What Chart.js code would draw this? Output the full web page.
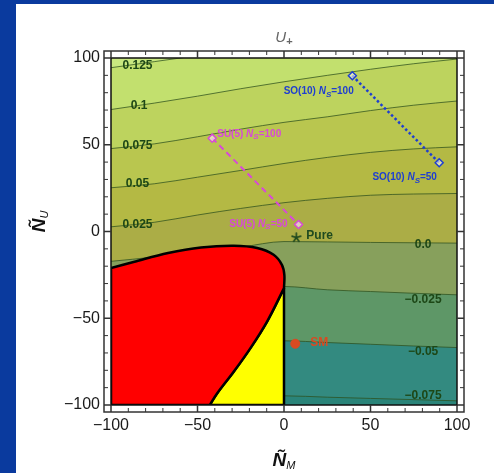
<!DOCTYPE html>
<html><head><meta charset="utf-8">
<script src="https://cdn.jsdelivr.net/npm/chart.js@4/dist/chart.umd.min.js"></script>
<style>
html,body{margin:0;padding:0;background:#0a3a9e;width:494px;height:473px;overflow:hidden}
#panel{position:absolute;left:16px;top:4px;width:478px;height:469px;background:#fff}
#c{position:absolute;left:0;top:0}
</style></head><body>
<div id="panel"></div>
<canvas id="c" width="494" height="473"></canvas>
<script>
// ---------------- data ----------------
const contourX = [-100, -75, -50, -25, 0, 25, 50, 75, 100];
const levelLabels = ['0.125', '0.1', '0.075', '0.05', '0.025', '0.0', '\u22120.025', '\u22120.05', '\u22120.075'];
const lvlP125 = [94.4, 97.9, 101.4, 104.9, 108.4, 111.9, 115.4, 118.9, 122.4];
const lvlP100 = [70.3, 74.0, 78.0, 82.3, 86.3, 90.0, 93.5, 96.7, 99.4];
const lvlP075 = [47.8, 50.5, 54.6, 59.0, 62.9, 66.1, 69.7, 72.8, 75.2];
const lvlP050 = [25.2, 27.5, 31.3, 35.2, 39.2, 42.7, 45.6, 47.6, 48.8];
const lvlP025 = [2.7, 5.3, 9.5, 13.3, 16.6, 19.1, 20.9, 21.6, 21.9];
const lvlZero = [-17.2, -14.7, -11.5, -9.0, -5.8, -6.0, -6.3, -6.5, -6.7];
const lvlM025 = [-31.7, -31.7, -31.7, -31.7, -31.7, -33.6, -34.6, -35.6, -36.5];
const lvlM050 = [-63.0, -63.0, -63.0, -63.0, -63.0, -64.0, -65.0, -66.0, -66.9];
const lvlM075 = [-94.7, -94.7, -94.7, -94.7, -94.7, -95.5, -96.2, -96.9, -97.6];

// excluded regions (boundary points, corners repeated)
const redM = [-100, -100, -100, -100, -87, -67, -48, -29, -15.5, -6, -1.2, 0.2, 0, 0, -9.8, -19.4, -29, -38.6, -42.9, -42.9, -100, -100];
const redU = [-100, -100, -21.1, -21.1, -17.6, -12.4, -9.2, -8.2, -9.5, -13.4, -19.2, -25, -32.6, -32.6, -51.9, -67.2, -80.7, -93.2, -100, -100, -100, -100];
const yelM = [0, 0, 0, 0, -42.9, -42.9, -38.6, -29, -19.4, -9.8, 0, 0];
const yelU = [-32.6, -32.6, -100, -100, -100, -100, -93.2, -80.7, -67.2, -51.9, -32.6, -32.6];

// model points
const su5NS = [100, 50], su5M = [-41.5, 8.4], su5U = [53.8, 4.0];
const so10NS = [100, 50], so10M = [39.5, 89.7], so10U = [89.8, 39.6];
const pureM = [7.1], pureU = [-3.5];
const smM = [6.5], smU = [-64.7];

const tickValues = [-100, -50, 0, 50, 100];

// ---------------- styles ----------------
const F = "'Liberation Sans', Arial, sans-serif";
const bandTop = '#c8e880';
const bandColors = ['#c2e06e', '#bdd35e', '#b9c64f', '#b4b944', '#abad46', '#87a05c', '#5e9767', '#338a80', '#2a8479'];
const levels = [lvlP125, lvlP100, lvlP075, lvlP050, lvlP025, lvlZero, lvlM025, lvlM050, lvlM075];
const pts = (xs, ys) => xs.map((x, i) => ({x, y: ys[i]}));

// 5-arm asterisk marker
const starImg = document.createElement('canvas');
starImg.width = 11; starImg.height = 11;
(() => {
  const g = starImg.getContext('2d');
  g.strokeStyle = '#1f4a1f'; g.lineWidth = 1.7; g.lineCap = 'round';
  g.beginPath();
  for (let k = 0; k < 5; k++) {
    const ang = -Math.PI / 2 + k * 2 * Math.PI / 5;
    g.moveTo(5.5, 5.5); g.lineTo(5.5 + 4.5 * Math.cos(ang), 5.5 + 4.5 * Math.sin(ang));
  }
  g.stroke();
})();

const datasets = [];
datasets.push({data: pts([-100, 100], [100, 100]), fill: 'start', backgroundColor: bandTop,
  borderWidth: 0, pointRadius: 0, order: 100});
levels.forEach((arr, i) => {
  datasets.push({data: pts(contourX, arr), fill: 'start', backgroundColor: bandColors[i],
    borderColor: 'rgba(45,80,30,0.75)', borderWidth: 1, pointRadius: 0,
    cubicInterpolationMode: 'monotone', order: 99 - i});
});
datasets.push({data: pts(yelM, yelU), fill: 'shape', backgroundColor: '#ffff00', borderColor: '#000',
  borderWidth: 2.5, pointRadius: 0, tension: 0.35, borderJoinStyle: 'round', order: 80});
datasets.push({data: pts(redM, redU), fill: 'shape', backgroundColor: '#ff0000', borderColor: '#000',
  borderWidth: 2.5, pointRadius: 0, tension: 0.35, borderJoinStyle: 'round', order: 79});
datasets.push({data: pts(su5M, su5U), borderColor: '#d848d8', borderWidth: 2, borderDash: [6, 4],
  pointStyle: 'rectRot', pointRadius: 4, pointBorderWidth: 1.5, pointBorderColor: '#d848d8',
  pointBackgroundColor: 'rgba(255,255,255,0.55)', fill: false, order: 70});
datasets.push({data: pts(so10M, so10U), borderColor: '#1f3fd0', borderWidth: 2.5, borderDash: [2.5, 2.5],
  pointStyle: 'rectRot', pointRadius: 4, pointBorderWidth: 1.5, pointBorderColor: '#1f3fd0',
  pointBackgroundColor: 'rgba(255,255,255,0.55)', fill: false, order: 69});
datasets.push({data: pts(pureM, pureU), showLine: false, pointStyle: starImg, pointRadius: 5,
  fill: false, order: 68});
datasets.push({data: pts(smM, smU), showLine: false, pointStyle: 'circle', pointRadius: 4.5,
  pointBackgroundColor: '#d84a22', pointBorderColor: '#d84a22', fill: false, order: 67});

// text annotations anchored in data units
const contourLabelPos = [[-84.7, 95.5], [-83.7, 72.3], [-84.7, 49.4], [-84.7, 27.7], [-84.7, 3.7],
  [80.4, -7.6], [80.4, -39.4], [80.4, -69.5], [80.4, -94.5]];

function rich(ctx, parts, x, y, align) {
  let w = 0; const ws = [];
  for (const p of parts) { ctx.font = p[1]; const m = ctx.measureText(p[0]).width; ws.push(m); w += m; }
  let cx = align === 'right' ? x - w : align === 'center' ? x - w / 2 : x;
  ctx.textAlign = 'left'; ctx.textBaseline = 'middle';
  parts.forEach((p, i) => { ctx.font = p[1]; ctx.fillText(p[0], cx, y + (p[2] || 0)); cx += ws[i]; });
}
function nsParts(group, ns, size) {
  return [[group + ' ', `bold ${size}px ${F}`], ['N', `bold italic ${size}px ${F}`],
    ['S', `bold italic ${size - 2}px ${F}`, 3], ['=' + ns, `bold ${size}px ${F}`]];
}

const decor = {
  id: 'decor',
  afterDatasetsDraw(chart) {
    const {ctx, chartArea: a, scales: {x, y}} = chart;
    const X = v => x.getPixelForValue(v), Y = v => y.getPixelForValue(v);
    ctx.save();
    ctx.fillStyle = '#1d4716';
    ctx.font = `bold 12px ${F}`; ctx.textAlign = 'center'; ctx.textBaseline = 'middle';
    levelLabels.forEach((t, i) => ctx.fillText(t, X(contourLabelPos[i][0]), Y(contourLabelPos[i][1])));
    ctx.fillStyle = '#d848d8';
    rich(ctx, nsParts('SU(5)', su5NS[0], 10), X(-38.6), Y(56.1), 'left');
    rich(ctx, nsParts('SU(5)', su5NS[1], 10), X(2.1), Y(4.3), 'right');
    ctx.fillStyle = '#1f3fd0';
    rich(ctx, nsParts('SO(10)', so10NS[0], 10), X(-0.2), Y(80.7), 'left');
    rich(ctx, nsParts('SO(10)', so10NS[1], 10), X(51.1), Y(31.1), 'left');
    ctx.fillStyle = '#1f4a1f';
    rich(ctx, [['Pure', `bold 12px ${F}`]], X(12.9), Y(-2.3), 'left');
    ctx.fillStyle = '#d84a22';
    rich(ctx, [['SM', `bold 12px ${F}`]], X(15.2), Y(-64.1), 'left');
    ctx.strokeStyle = '#111'; ctx.lineWidth = 1.5;
    ctx.strokeRect(a.left, a.top, a.right - a.left, a.bottom - a.top);
    const p = 7, L = a.left - p, R = a.right + p, T = a.top - p, B = a.bottom + p;
    ctx.strokeStyle = '#333'; ctx.lineWidth = 1.5;
    ctx.strokeRect(L, T, R - L, B - T);
    for (let v = -100; v <= 100; v += 10) {
      const major = v % 50 === 0, len = major ? 7 : 4;
      ctx.lineWidth = major ? 1.5 : 1;
      const px = X(v), py = Y(v);
      ctx.beginPath();
      ctx.moveTo(px, B); ctx.lineTo(px, B - len);
      ctx.moveTo(px, T); ctx.lineTo(px, T + len);
      ctx.moveTo(L, py); ctx.lineTo(L + len, py);
      ctx.moveTo(R, py); ctx.lineTo(R - len, py);
      ctx.stroke();
    }
    const cx = (a.left + a.right) / 2;
    ctx.fillStyle = '#666';
    rich(ctx, [['U', `italic 15px ${F}`], ['+', `bold 11px ${F}`, 4]], cx, 38, 'center');
    ctx.fillStyle = '#111';
    rich(ctx, [['\u00d1', `bold italic 19px ${F}`], ['M', `italic 11px ${F}`, 5]], cx, 461, 'center');
    ctx.translate(40, (a.top + a.bottom) / 2 - 10);
    ctx.rotate(-Math.PI / 2);
    rich(ctx, [['\u00d1', `bold italic 19px ${F}`], ['U', `italic 11px ${F}`, 5]], 0, 0, 'center');
    ctx.restore();
  }
};

const fmt = v => (v < 0 ? '\u2212' + Math.abs(v) : String(v));
new Chart(document.getElementById('c'), {
  type: 'line',
  data: {datasets},
  options: {
    responsive: false, animation: false, events: [], devicePixelRatio: 1,
    layout: {padding: {left: 0, right: 37, top: 58, bottom: 0}},
    plugins: {legend: {display: false}, tooltip: {enabled: false}, title: {display: false}},
    scales: {
      x: {type: 'linear', min: -100, max: 100, border: {display: false},
        grid: {display: false, drawTicks: false},
        afterBuildTicks: s => { s.ticks = tickValues.map(v => ({value: v})); },
        afterFit: s => { s.height = 68; },
        ticks: {padding: 11, maxRotation: 0, autoSkip: false, color: '#1a1a1a', font: {family: F, size: 16}, callback: fmt}},
      y: {type: 'linear', min: -100, max: 100, border: {display: false},
        grid: {display: false, drawTicks: false},
        afterBuildTicks: s => { s.ticks = tickValues.map(v => ({value: v})); },
        afterFit: s => { s.width = 111; },
        ticks: {padding: 11, autoSkip: false, color: '#1a1a1a', font: {family: F, size: 16}, callback: fmt}}
    }
  },
  plugins: [decor]
});
</script>
</body></html>
